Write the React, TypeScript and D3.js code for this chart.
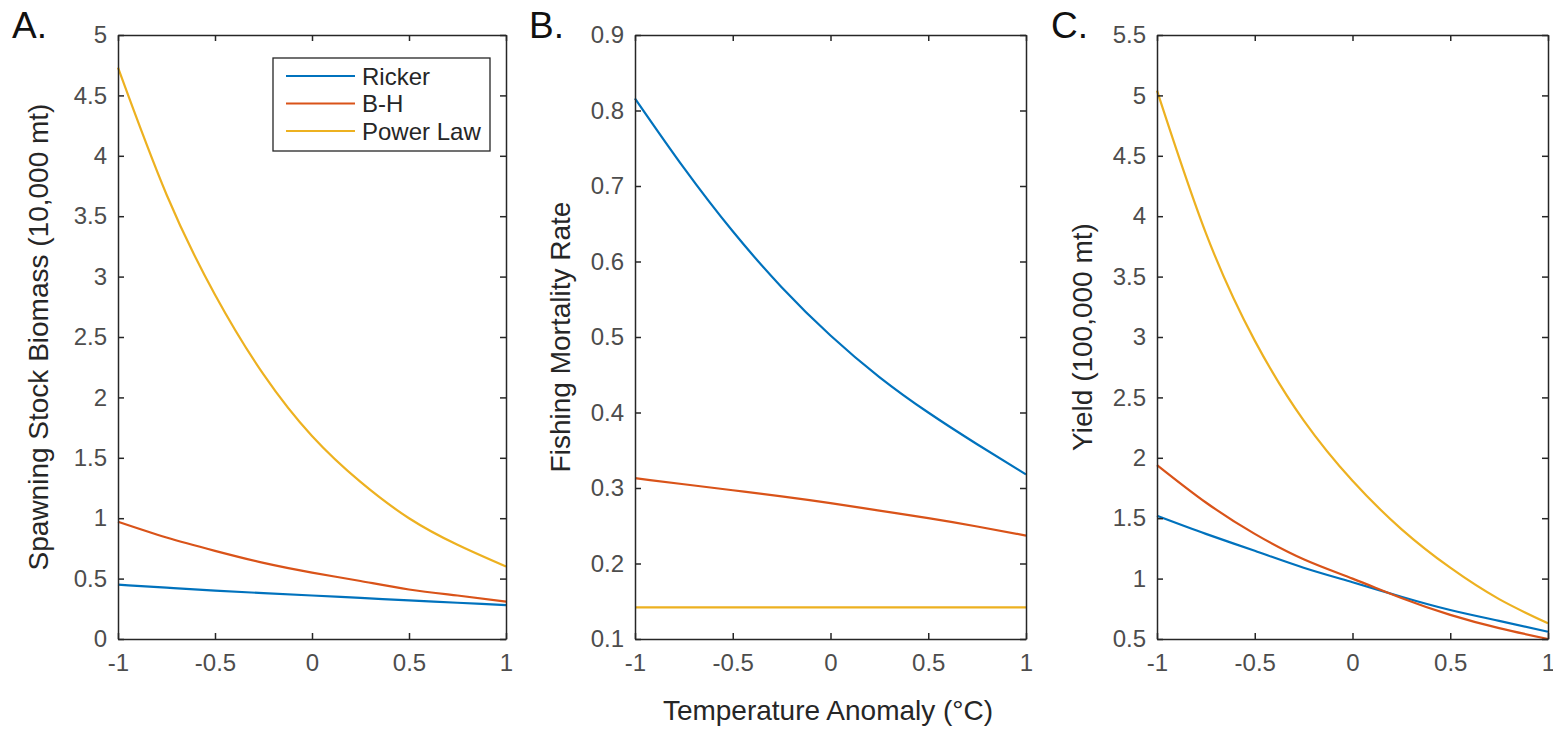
import React, { useRef, useEffect } from "react";
import * as d3 from "d3";

// temperature anomaly (°C)
const temps = [-1, -0.75, -0.5, -0.25, 0, 0.25, 0.5, 0.75, 1];

// A. spawning stock biomass (10,000 mt)
const ssbRicker = [0.45, 0.425, 0.40, 0.38, 0.36, 0.34, 0.32, 0.30, 0.28];
const ssbBH = [0.97, 0.84, 0.73, 0.63, 0.55, 0.48, 0.41, 0.36, 0.31];
const ssbPower = [4.73, 3.68, 2.85, 2.19, 1.68, 1.30, 1.00, 0.78, 0.60];

// B. fishing mortality rate
const fRicker = [0.816, 0.724, 0.640, 0.566, 0.502, 0.447, 0.40, 0.358, 0.318];
const fBH = [0.313, 0.305, 0.297, 0.289, 0.280, 0.270, 0.260, 0.249, 0.237];
const fPower = [0.142, 0.142, 0.142, 0.142, 0.142, 0.142, 0.142, 0.142, 0.142];

// C. yield (100,000 mt)
const yieldRicker = [1.52, 1.37, 1.23, 1.09, 0.97, 0.85, 0.74, 0.65, 0.56];
const yieldBH = [1.94, 1.63, 1.37, 1.16, 1.00, 0.84, 0.70, 0.59, 0.50];
const yieldPower = [5.04, 3.86, 2.97, 2.31, 1.81, 1.41, 1.09, 0.83, 0.63];

const seriesNames = ["Ricker", "B-H", "Power Law"];
const colors = ["#0072BD", "#D95319", "#EDB120"];
const xTicks = [-1, -0.5, 0, 0.5, 1];

const panels = [
  { letter: "A.", left: 118, right: 506, yDomain: [0, 5], yTicks: d3.range(0, 5.01, 0.5), ylabel: "Spawning Stock Biomass (10,000 mt)", labelX: 48, series: [ssbRicker, ssbBH, ssbPower], legend: true },
  { letter: "B.", left: 635, right: 1026, yDomain: [0.1, 0.9], yTicks: d3.range(0.1, 0.91, 0.1), ylabel: "Fishing Mortality Rate", labelX: 570, series: [fRicker, fBH, fPower], legend: false },
  { letter: "C.", left: 1157, right: 1548, yDomain: [0.5, 5.5], yTicks: d3.range(0.5, 5.51, 0.5), ylabel: "Yield (100,000 mt)", labelX: 1092, series: [yieldRicker, yieldBH, yieldPower], legend: false },
];

const W = 1553, H = 730, TOP = 35, BOTTOM = 639;
const FONT = "'Liberation Sans', Arial, Helvetica, sans-serif";
const AXIS = "#262626";
const TICKTXT = "#4d4d4d";

const fmt = (v: number) => String(+v.toFixed(2));

const App = () => {
  const ref = useRef<SVGSVGElement>(null);

  useEffect(() => {
    const svg = d3.select(ref.current);
    svg.selectAll("*").remove();

    panels.forEach(p => {
      const x = d3.scaleLinear().domain([-1, 1]).range([p.left, p.right]);
      const y = d3.scaleLinear().domain(p.yDomain).range([BOTTOM, TOP]);
      const g = svg.append("g");

      // curves
      const line = d3.line<number>()
        .x((_, i) => x(temps[i]))
        .y(d => y(d))
        .curve(d3.curveNatural);
      p.series.forEach((s, i) => {
        g.append("path")
          .attr("d", line(s))
          .attr("fill", "none")
          .attr("stroke", colors[i])
          .attr("stroke-width", 2.2);
      });

      // axes: inward ticks, box on all four sides
      const styleAxis = (a: any) => {
        a.select(".domain").attr("stroke", AXIS).attr("stroke-width", 1.5);
        a.selectAll(".tick line").attr("stroke", AXIS).attr("stroke-width", 1.5);
        a.selectAll(".tick text").attr("fill", TICKTXT).style("font-size", "24px").style("font-family", FONT);
      };
      g.append("g").attr("transform", `translate(0,${BOTTOM})`)
        .call(d3.axisBottom(x).tickValues(xTicks).tickFormat(fmt as any).tickSizeInner(-6).tickSizeOuter(0).tickPadding(15))
        .call(styleAxis);
      g.append("g").attr("transform", `translate(0,${TOP})`)
        .call(d3.axisTop(x).tickValues(xTicks).tickFormat(() => "").tickSizeInner(-6).tickSizeOuter(0))
        .call(styleAxis);
      g.append("g").attr("transform", `translate(${p.left},0)`)
        .call(d3.axisLeft(y).tickValues(p.yTicks).tickFormat(fmt as any).tickSizeInner(-6).tickSizeOuter(0).tickPadding(11))
        .call(styleAxis);
      g.append("g").attr("transform", `translate(${p.right},0)`)
        .call(d3.axisRight(y).tickValues(p.yTicks).tickFormat(() => "").tickSizeInner(-6).tickSizeOuter(0))
        .call(styleAxis);

      // y label
      g.append("text")
        .attr("transform", `translate(${p.labelX},${(TOP + BOTTOM) / 2}) rotate(-90)`)
        .attr("text-anchor", "middle")
        .attr("fill", AXIS)
        .style("font-size", "28px")
        .style("font-family", FONT)
        .text(p.ylabel);

      // panel letter
      g.append("text")
        .attr("x", p.left - 106)
        .attr("y", 38)
        .attr("fill", "#111")
        .style("font-size", "37px")
        .style("font-family", FONT)
        .text(p.letter);

      if (p.legend) {
        const lg = g.append("g");
        lg.append("rect")
          .attr("x", 273).attr("y", 58).attr("width", 217).attr("height", 93)
          .attr("fill", "#fff").attr("stroke", AXIS).attr("stroke-width", 1.3);
        seriesNames.forEach((name, i) => {
          const yy = 76 + i * 27.5;
          lg.append("line")
            .attr("x1", 286).attr("x2", 355).attr("y1", yy).attr("y2", yy)
            .attr("stroke", colors[i]).attr("stroke-width", 2.2);
          lg.append("text")
            .attr("x", 362).attr("y", yy + 8.5)
            .attr("fill", AXIS)
            .style("font-size", "24px")
            .style("font-family", FONT)
            .text(name);
        });
      }
    });

    // shared x label
    svg.append("text")
      .attr("x", 828)
      .attr("y", 720)
      .attr("text-anchor", "middle")
      .attr("fill", AXIS)
      .style("font-size", "28px")
      .style("font-family", FONT)
      .text("Temperature Anomaly (°C)");
  }, []);

  return (
    <>
      <style>{"body{margin:0}"}</style>
      <svg ref={ref} width={W} height={H} style={{ background: "#fff", display: "block" }} />
    </>
  );
};

export default App;
